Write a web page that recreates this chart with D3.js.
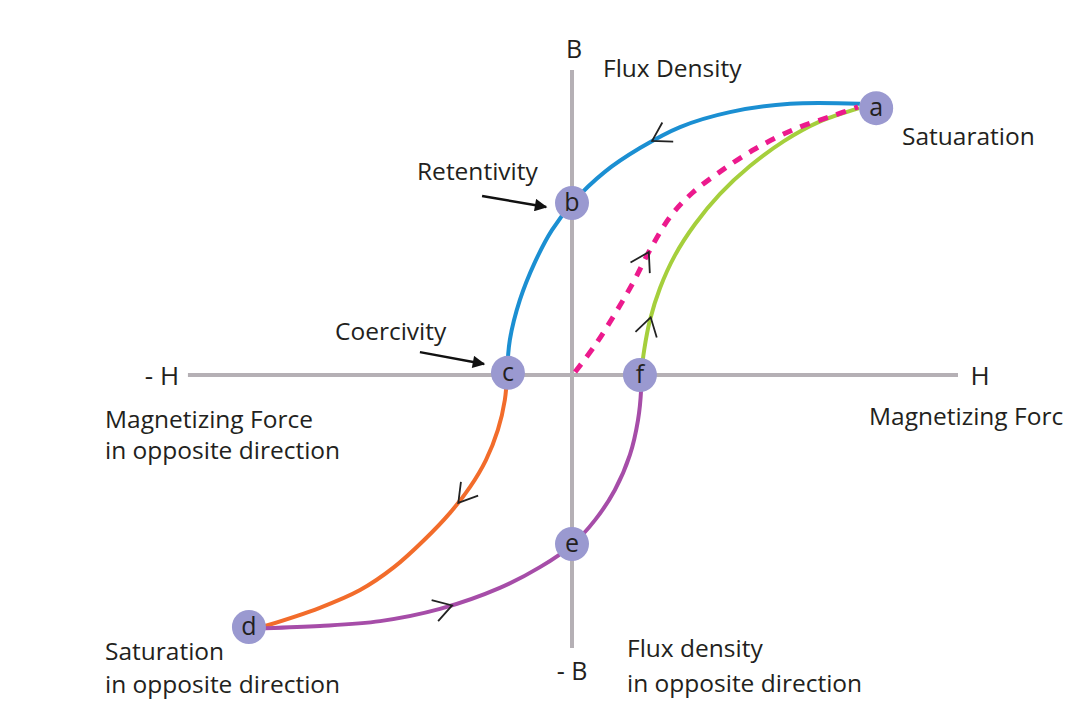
<!DOCTYPE html>
<html>
<head>
<meta charset="utf-8">
<script src="https://cdn.jsdelivr.net/npm/d3@7"></script>
<style>
  body { margin: 0; background: #fff; }
  text { font-family: "Open Sans", Lato, sans-serif; fill: #231f20; }
</style>
</head>
<body>
<div id="chart"></div>
<script>
// hysteresis loop, values in H / B units
var hAxis = [-9.95, 10];
var bAxis = [-8.95, 10];

var blueCurve = [[7.46, 8.89], [5.65, 8.89], [4.09, 8.62], [2.8, 8.13], [1.76, 7.44], [0.85, 6.66],
  [0.03, 5.67], [-0.52, 4.75], [-0.96, 3.7], [-1.35, 2.46], [-1.61, 1.15], [-1.68, 0.07]];
var orangeCurve = [[-1.68, 0.07], [-1.74, -0.82], [-1.92, -1.8], [-2.23, -2.79], [-2.64, -3.67], [-3.16, -4.52],
  [-3.83, -5.41], [-4.61, -6.3], [-5.49, -7.05], [-6.55, -7.64], [-7.95, -8.23]];
var purpleCurve = [[-7.95, -8.3], [-6.53, -8.23], [-4.97, -8.07], [-3.42, -7.67], [-1.87, -6.98], [-0.83, -6.3],
  [0, -5.57], [0.6, -4.75], [1.11, -3.77], [1.5, -2.62], [1.71, -1.48], [1.79, -0.49], [1.79, 0]];
var greenCurve = [[1.79, 0], [1.87, 0.82], [2.02, 1.8], [2.28, 2.85], [2.67, 3.93], [3.19, 4.95], [3.83, 5.93],
  [4.61, 6.85], [5.49, 7.67], [6.4, 8.3], [7.44, 8.75]];
var pinkCurve = [[0.08, 0.1], [0.6, 0.98], [1.11, 2.0], [1.58, 3.02], [2.02, 4.1], [2.55, 5.2], [3.1, 5.95],
  [3.83, 6.66], [4.74, 7.41], [5.78, 8.07], [6.81, 8.52], [7.41, 8.79]];

var pointNames = ["a", "b", "c", "d", "e", "f"];
var pointH = [7.88, 0, -1.66, -8.37, 0, 1.76];
var pointB = [8.75, 5.64, 0.07, -8.26, -5.54, 0];

// direction arrows sitting on the curves
var arrowCurves = ["blue", "orange", "purple", "green", "pink"];
var arrowH = [2.07, -3.03, -3.08, 2.1, 1.99];
var arrowB = [7.7, -4.1, -7.64, 1.87, 4.03];

// callouts: [from, to]
var calloutLabels = ["Retentivity", "Coercivity"];
var calloutFrom = [[-2.33, 5.87], [-3.94, 0.75]];
var calloutTo = [[-0.67, 5.51], [-2.28, 0.36]];

var width = 1069, height = 713;
var x = d3.scaleLinear().domain([-10, 10]).range([186, 958]);
var y = d3.scaleLinear().domain([-10, 10]).range([680, 70]);

var svg = d3.select("#chart").append("svg").attr("width", width).attr("height", height);

var defs = svg.append("defs");
defs.append("marker")
  .attr("id", "head")
  .attr("viewBox", "0 0 10 10")
  .attr("refX", 9).attr("refY", 5)
  .attr("markerWidth", 6).attr("markerHeight", 5)
  .attr("markerUnits", "strokeWidth")
  .attr("orient", "auto")
  .append("path").attr("d", "M0,0 L10,5 L0,10 z").attr("fill", "#111");

// axes
var axisColor = "#b5b0b5";
svg.append("line")
  .attr("x1", x(hAxis[0])).attr("x2", x(hAxis[1]))
  .attr("y1", y(0)).attr("y2", y(0))
  .attr("stroke", axisColor).attr("stroke-width", 4);
svg.append("line")
  .attr("x1", x(0)).attr("x2", x(0))
  .attr("y1", y(bAxis[0])).attr("y2", y(bAxis[1]))
  .attr("stroke", axisColor).attr("stroke-width", 4);

var line = d3.line()
  .x(function (d) { return x(d[0]); })
  .y(function (d) { return y(d[1]); })
  .curve(d3.curveCatmullRom.alpha(0.5));

var curves = {
  blue: { data: blueCurve, color: "#1b8fd2" },
  orange: { data: orangeCurve, color: "#f26c2b" },
  purple: { data: purpleCurve, color: "#a64da8" },
  green: { data: greenCurve, color: "#a5cf3c" },
  pink: { data: pinkCurve, color: "#ec1a8d", dash: "10,9", w: 5 }
};

Object.keys(curves).forEach(function (k) {
  var c = curves[k];
  c.node = svg.append("path")
    .attr("d", line(c.data))
    .attr("fill", "none")
    .attr("stroke", c.color)
    .attr("stroke-width", c.w || 4)
    .attr("stroke-dasharray", c.dash || null)
    .node();
});

// chevrons: find nearest spot on the curve, point along its direction
arrowCurves.forEach(function (k, i) {
  var node = curves[k].node;
  var total = node.getTotalLength();
  var px = x(arrowH[i]), py = y(arrowB[i]);
  var best = 0, bestD = Infinity;
  for (var l = 0; l <= total; l += 0.5) {
    var p = node.getPointAtLength(l);
    var dd = (p.x - px) * (p.x - px) + (p.y - py) * (p.y - py);
    if (dd < bestD) { bestD = dd; best = l; }
  }
  var p0 = node.getPointAtLength(Math.max(0, best - 3));
  var p1 = node.getPointAtLength(Math.min(total, best + 3));
  var ang = Math.atan2(p1.y - p0.y, p1.x - p0.x) * 180 / Math.PI;
  var at = node.getPointAtLength(best);
  svg.append("path")
    .attr("d", "M-18,-11 L0,0 L-18,11")
    .attr("fill", "none")
    .attr("stroke", "#222")
    .attr("stroke-width", 1.8)
    .attr("transform", "translate(" + at.x + "," + at.y + ") rotate(" + ang + ")");
});

// callout arrows
calloutLabels.forEach(function (t, i) {
  svg.append("line")
    .attr("x1", x(calloutFrom[i][0])).attr("y1", y(calloutFrom[i][1]))
    .attr("x2", x(calloutTo[i][0])).attr("y2", y(calloutTo[i][1]))
    .attr("stroke", "#111").attr("stroke-width", 2.5)
    .attr("marker-end", "url(#head)");
});

// points
var pts = svg.append("g").selectAll("g")
  .data(pointNames)
  .enter().append("g")
  .attr("transform", function (d, i) { return "translate(" + x(pointH[i]) + "," + y(pointB[i]) + ")"; });
pts.append("circle").attr("r", 17).attr("fill", "#9a99d0");
pts.append("text")
  .attr("text-anchor", "middle")
  .attr("dy", "0.33em")
  .style("font-size", "25px")
  .text(function (d) { return d; });

// labels
function label(t, lx, ly, size, anchor) {
  return svg.append("text").attr("x", lx).attr("y", ly)
    .attr("text-anchor", anchor || "start")
    .style("font-size", size + "px").text(t);
}
label(calloutLabels[0], 417, 180, 24.5);
label(calloutLabels[1], 335, 340, 24.5);
label("B", x(0) + 2, 58, 25, "middle");
label("- B", x(0), 680, 25, "middle");
label("- H", 162, 385, 26, "middle");
label("H", 980, 385, 26, "middle");
label("Flux Density", 603, 77, 24.5);
label("Satuaration", 902, 145, 24.5);
label("Magnetizing Force", 105, 428, 24.5);
label("in opposite direction", 105, 459, 24.5);
label("Magnetizing Forc", 869, 425, 24.5);
label("Saturation", 105, 660, 24.5);
label("in opposite direction", 105, 693, 24.5);
label("Flux density", 627, 657, 24.5);
label("in opposite direction", 627, 692, 24.5);
</script>
</body>
</html>
